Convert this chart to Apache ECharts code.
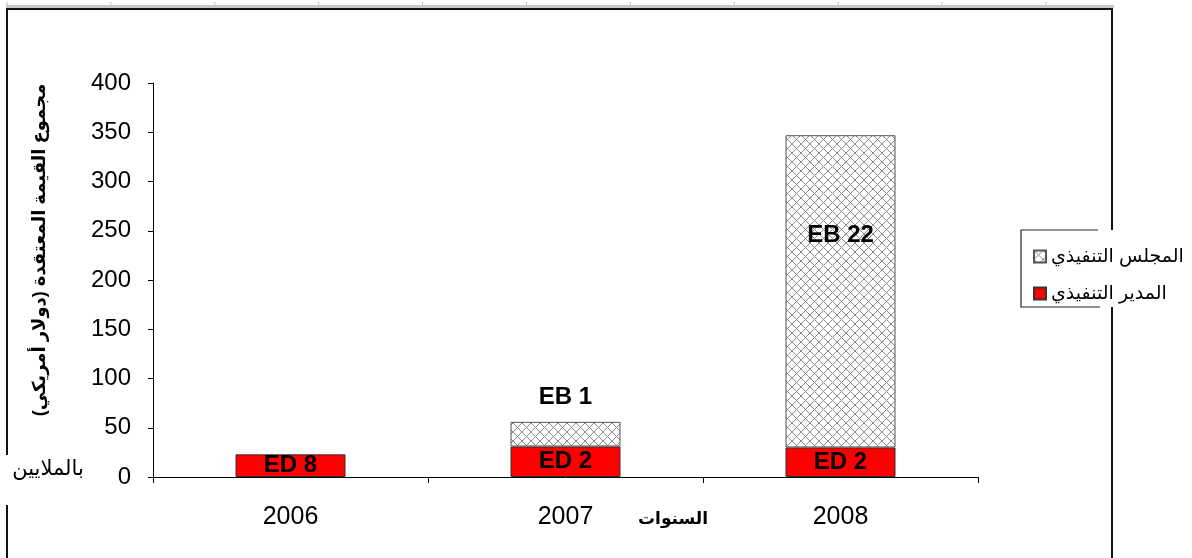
<!DOCTYPE html>
<html><head><meta charset="utf-8">
<script src="https://cdn.jsdelivr.net/npm/echarts@6/dist/echarts.min.js"></script>
<style>html,body{margin:0;padding:0;background:#fff}#c{width:1192px;height:558px}</style>
</head><body><div id="c"></div>
<script>
const categories = ['2006', '2007', '2008'];
const edValues = [23, 31, 30];          // المدير التنفيذي
const ebValues = [null, 25, 317];       // المجلس التنفيذي
const edLabels = ['ED 8', 'ED 2', 'ED 2'];
const ebLabels = ['', 'EB 1', 'EB 22'];
const yTicks = [0, 50, 100, 150, 200, 250, 300, 350, 400];

function hatch() {
  const s = 9, c = document.createElement('canvas');
  c.width = s; c.height = s;
  const g = c.getContext('2d');
  g.fillStyle = '#fff'; g.fillRect(0, 0, s, s);
  g.strokeStyle = '#8a8a8a'; g.lineWidth = 1;
  g.beginPath();
  g.moveTo(0, 0); g.lineTo(s, s);
  g.moveTo(s, 0); g.lineTo(0, s);
  g.stroke();
  return c;
}
const hatchFill = { image: hatch(), repeat: 'repeat' };

const chart = echarts.init(document.getElementById('c'), null, { renderer: 'canvas' });
const lblFont = { fontFamily: 'Arial, Liberation Sans', fontWeight: 'bold', fontSize: 24, color: '#000' };

const rulerTicks = [];
for (let i = 0; i < 11; i++) {
  const x = 7 + i * 103.9;
  rulerTicks.push({ type: 'line', shape: { x1: x, y1: 2, x2: x, y2: 7 }, style: { stroke: '#bdbdbd', lineWidth: 1 }, silent: true });
}

chart.setOption({
  animation: false,
  grid: { left: 153, right: 214, top: 83, bottom: 81, containLabel: false, outerBoundsMode: 'none' },
  xAxis: {
    type: 'category', data: categories,
    axisLine: { lineStyle: { color: '#000', width: 1 } },
    axisTick: { show: true, length: 6, lineStyle: { color: '#000' }, alignWithLabel: false },
    axisLabel: { margin: 28, fontFamily: 'Arial, Liberation Sans', fontSize: 25, color: '#000' }
  },
  yAxis: {
    type: 'value', min: 0, max: 400, interval: 50,
    axisLine: { show: true, lineStyle: { color: '#000' } },
    axisTick: { show: true, length: 5, lineStyle: { color: '#000' } },
    splitLine: { show: false },
    axisLabel: { margin: 22, fontFamily: 'Arial, Liberation Sans', fontSize: 24, color: '#000',
      formatter: v => yTicks.includes(v) ? String(v) : '' }
  },
  legend: {
    orient: 'vertical', left: 1028, top: 242, itemWidth: 12, itemHeight: 12, itemGap: 18,
    icon: 'rect',
    data: ['المجلس التنفيذي', 'المدير التنفيذي'],
    textStyle: { fontFamily: 'Arial, DejaVu Sans', fontSize: 19, color: '#000', padding: [0, 0, 0, 0] }
  },
  series: [
    {
      name: 'المدير التنفيذي', type: 'bar', stack: 'a', data: edValues, barWidth: '40%',
      itemStyle: { color: '#ff0000', borderColor: '#333', borderWidth: 1 },
      label: { show: true, position: 'inside', ...lblFont, formatter: p => edLabels[p.dataIndex] }
    },
    {
      name: 'المجلس التنفيذي', type: 'bar', stack: 'a', data: ebValues, barWidth: '40%',
      itemStyle: { color: hatchFill, borderColor: '#555', borderWidth: 1 },
      label: { show: true, ...lblFont,
        position: 'top', distance: 12,
        formatter: p => ebLabels[p.dataIndex] },
      labelLayout: function (params) {
        if (params.dataIndex === 2) {
          const r = params.rect;
          return { x: r.x + r.width / 2, y: r.y + r.height * 0.32, align: 'center', verticalAlign: 'middle' };
        }
        return {};
      }
    }
  ],
  graphic: [
    ...rulerTicks,
    { type: 'rect', shape: { x: 6, y: 5, width: 1108, height: 3 }, style: { fill: '#c8c8c8' }, silent: true },
    { type: 'line', shape: { x1: 6, y1: 9, x2: 1113, y2: 9 }, style: { stroke: '#111', lineWidth: 2 }, silent: true },
    { type: 'line', shape: { x1: 7, y1: 8, x2: 7, y2: 455 }, style: { stroke: '#111', lineWidth: 2 }, silent: true },
    { type: 'line', shape: { x1: 7, y1: 505, x2: 7, y2: 558 }, style: { stroke: '#111', lineWidth: 2 }, silent: true },
    { type: 'line', shape: { x1: 1112, y1: 8, x2: 1112, y2: 230 }, style: { stroke: '#111', lineWidth: 2 }, silent: true },
    { type: 'line', shape: { x1: 1112, y1: 307, x2: 1112, y2: 558 }, style: { stroke: '#111', lineWidth: 2 }, silent: true },
    { type: 'polyline', shape: { points: [[1098, 230], [1021, 230], [1021, 307], [1100, 307]] }, style: { stroke: '#222', lineWidth: 1.2, fill: null }, silent: true },
    { type: 'text', x: 40, y: 250, rotation: Math.PI / 2,
      style: { text: 'مجموع القيمة المعتقدة (دولار أمريكي)', fontFamily: 'Arial, DejaVu Sans', fontWeight: 'bold', fontSize: 18, fill: '#000', align: 'center', verticalAlign: 'middle' }, silent: true },
    { type: 'text', x: 48, y: 469,
      style: { text: 'بالملايين', fontFamily: 'Arial, DejaVu Sans', fontSize: 21, fill: '#000', align: 'center', verticalAlign: 'middle' }, silent: true },
    { type: 'text', x: 673, y: 519,
      style: { text: 'السنوات', fontFamily: 'Arial, DejaVu Sans', fontWeight: 'bold', fontSize: 17, fill: '#000', align: 'center', verticalAlign: 'middle' }, silent: true }
  ]
});
</script></body></html>
